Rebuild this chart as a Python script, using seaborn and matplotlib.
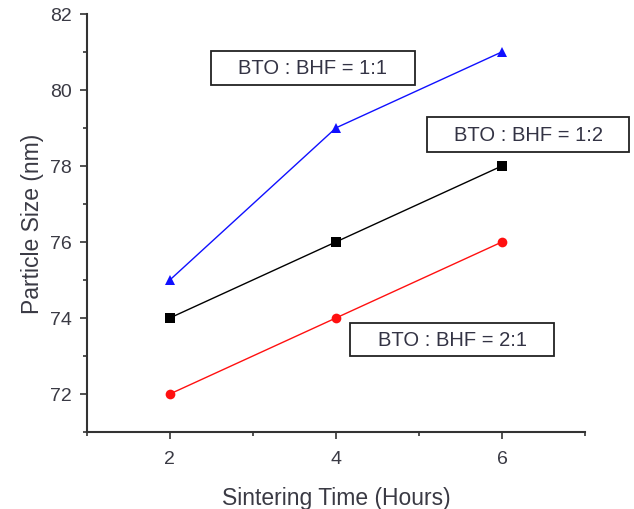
import matplotlib
matplotlib.use("Agg")
import matplotlib.pyplot as plt
import seaborn as sns
import pandas as pd
from matplotlib.ticker import MultipleLocator
from matplotlib.patches import Rectangle

hours = [2, 4, 6]
ratio_11 = [75, 79, 81]
ratio_12 = [74, 76, 78]
ratio_21 = [72, 74, 76]
labels = ["BTO : BHF = 1:1", "BTO : BHF = 1:2", "BTO : BHF = 2:1"]

df = pd.DataFrame({
    "hours": hours * 3,
    "size": ratio_11 + ratio_12 + ratio_21,
    "series": [labels[0]] * 3 + [labels[1]] * 3 + [labels[2]] * 3,
})

sns.set_style("ticks")
plt.rcParams["font.family"] = ["Liberation Sans", "DejaVu Sans"]

fig = plt.figure(figsize=(6.34, 5.10), dpi=100)
ax = fig.add_axes([0.137, 0.151, 0.786, 0.820])

palette = {labels[0]: "#1010ff", labels[1]: "#000000", labels[2]: "#ff1010"}
markers = {labels[0]: "^", labels[1]: "s", labels[2]: "o"}
sns.lineplot(data=df, x="hours", y="size", hue="series", style="series",
             palette=palette, markers=markers, dashes=False, markersize=7,
             linewidth=1.0, markeredgewidth=0, legend=False, ax=ax)

ax.set_xlim(1, 7)
ax.set_ylim(71, 82)
ax.xaxis.set_major_locator(MultipleLocator(2))
ax.xaxis.set_minor_locator(MultipleLocator(1))
ax.yaxis.set_major_locator(MultipleLocator(2))
ax.yaxis.set_minor_locator(MultipleLocator(1))
ax.tick_params(which="major", length=5, width=1.2, labelsize=14, colors="#333333", labelcolor="#3a3a44")
ax.tick_params(axis="x", which="major", pad=8)
ax.tick_params(axis="y", which="major", pad=6)
ax.tick_params(which="minor", length=3, width=1.2, colors="#333333")
for s in ["top", "right"]:
    ax.spines[s].set_visible(False)
for s in ["left", "bottom"]:
    ax.spines[s].set_linewidth(1.5)
    ax.spines[s].set_color("#333333")

ax.set_xlabel("Sintering Time (Hours)", fontsize=16.5, color="#3a3a44", labelpad=14)
ax.set_ylabel("Particle Size (nm)", fontsize=16.5, color="#3a3a44", labelpad=4)

# annotation boxes (axes-fraction layout)
boxes = [
    (0.249, 0.830, 0.410, 0.081, 0.453, 0.871),
    (0.683, 0.670, 0.405, 0.084, 0.886, 0.712),
    (0.528, 0.182, 0.410, 0.079, 0.733, 0.221),
]
for lab, (x0, y0, w, h, cx, cy) in zip(labels, boxes):
    ax.add_patch(Rectangle((x0, y0), w, h, transform=ax.transAxes, facecolor="white",
                           edgecolor="#222222", linewidth=1.3, clip_on=False, zorder=5))
    ax.text(cx, cy, lab, transform=ax.transAxes, fontsize=14.5, color="#333344",
            ha="center", va="center", zorder=6)

fig.savefig("out.png", dpi=100)
